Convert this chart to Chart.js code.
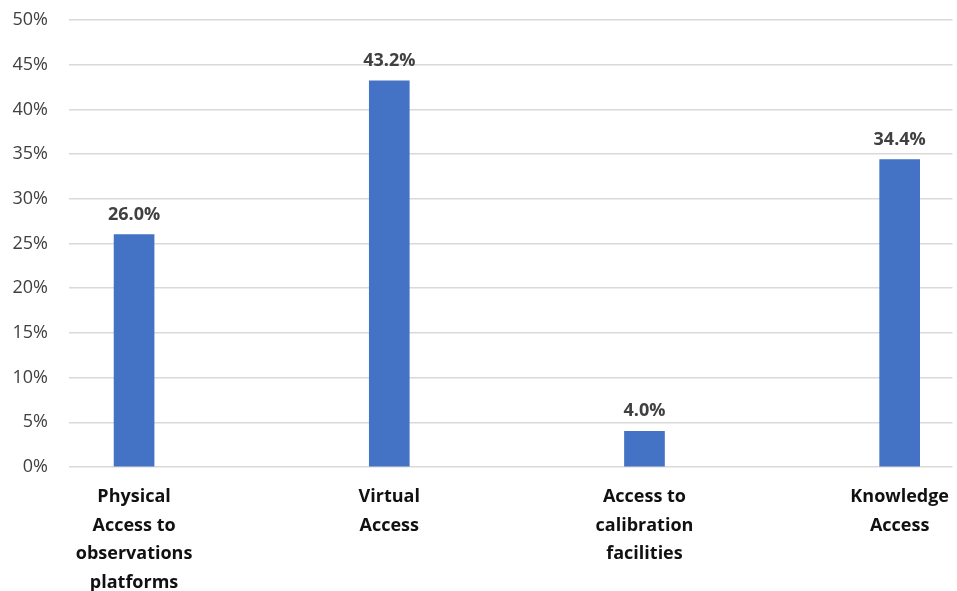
<!DOCTYPE html>
<html>
<head>
<meta charset="utf-8">
<script src="https://cdn.jsdelivr.net/npm/chart.js@4.4.1/dist/chart.umd.min.js"></script>
<style>
  html, body { margin: 0; padding: 0; background: #ffffff; }
  #wrap { width: 957px; height: 591px; }
</style>
</head>
<body>
<div id="wrap"><canvas id="chart"></canvas></div>
<script>
const categories = [
  ["Physical", "Access to", "observations", "platforms"],
  ["Virtual", "Access"],
  ["Access to", "calibration", "facilities"],
  ["Knowledge", "Access"],
];
const shares = [26.0, 43.2, 4.0, 34.4];
const yTicks = [0, 5, 10, 15, 20, 25, 30, 35, 40, 45, 50];

const FONT = "'Open Sans', 'Noto Sans', sans-serif";

const valueLabels = {
  id: "valueLabels",
  afterDatasetsDraw(chart) {
    const { ctx } = chart;
    const meta = chart.getDatasetMeta(0);
    ctx.save();
    ctx.font = `bold 18px ${FONT}`;
    ctx.fillStyle = "#404040";
    ctx.textAlign = "center";
    ctx.textBaseline = "bottom";
    meta.data.forEach((bar, i) => {
      ctx.fillText(`${shares[i].toFixed(1)}%`, bar.x, bar.y - 11);
    });
    ctx.restore();
  },
};

new Chart(document.getElementById("chart"), {
  type: "bar",
  data: {
    datasets: [{
      data: shares.map((v, i) => ({ x: i, y: v })),
      backgroundColor: "#4472C4",
      borderWidth: 0,
      barThickness: 40,
    }],
  },
  options: {
    responsive: true,
    maintainAspectRatio: false,
    animation: false,
    layout: { padding: { top: 20, right: 0, left: 0, bottom: 0 } },
    plugins: {
      legend: { display: false },
      tooltip: { enabled: false },
    },
    scales: {
      x: {
        type: "linear",
        offset: false,
        min: -0.255,
        max: 3.207,
        grid: { display: false },
        border: { display: false },
        afterBuildTicks: (scale) => {
          scale.ticks = categories.map((_c, i) => ({ value: i }));
        },
        afterFit: (scale) => { scale.height = 124; },
        ticks: {
          autoSkip: false,
          maxRotation: 0,
          padding: 8,
          color: "#111111",
          font: { family: FONT, size: 18, weight: "bold", lineHeight: 1.58 },
          callback: (v) => categories[v],
        },
      },
      y: {
        min: 0,
        max: 50,
        afterBuildTicks: (scale) => {
          scale.ticks = yTicks.map((v) => ({ value: v }));
        },
        afterFit: (scale) => {
          scale.width = 69;
          scale.paddingTop = 0;
          scale.paddingBottom = 0;
        },
        grid: { color: "#d9d9d9", lineWidth: 1.5, drawTicks: false },
        border: { display: false },
        ticks: {
          padding: 21,
          color: "#404040",
          font: { family: FONT, size: 18 },
          callback: (v) => `${v}%`,
        },
      },
    },
  },
  plugins: [valueLabels],
});
</script>
</body>
</html>
